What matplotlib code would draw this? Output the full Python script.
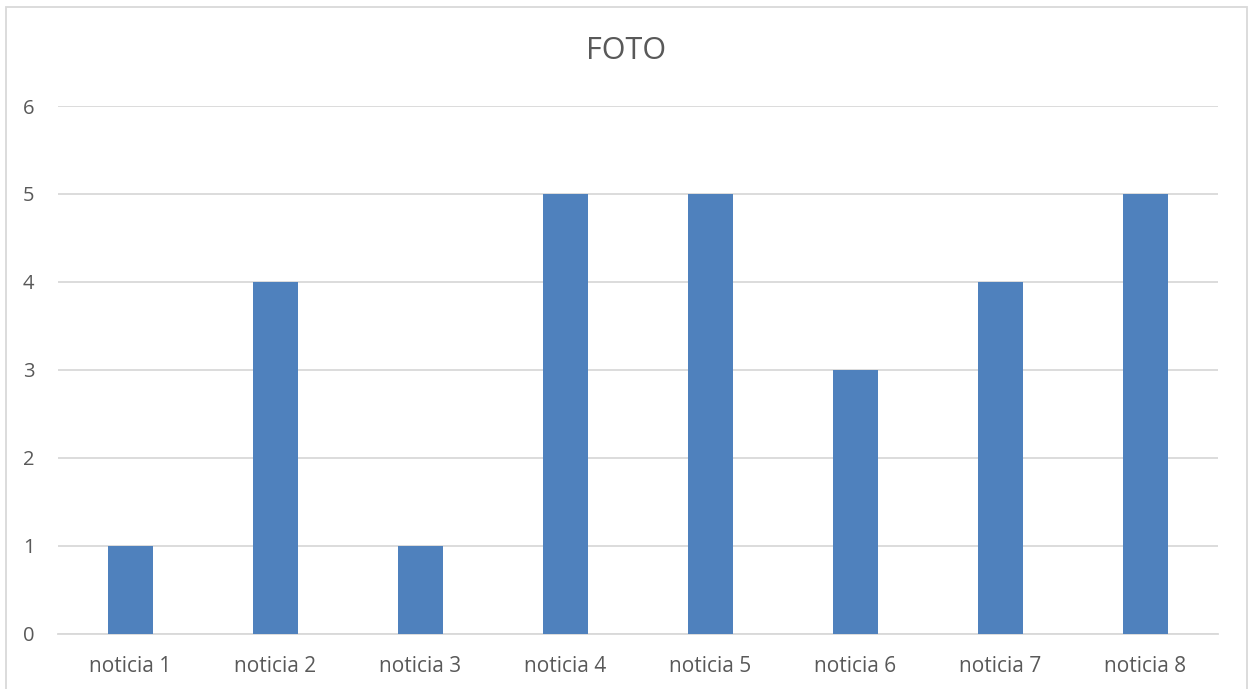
import matplotlib.pyplot as plt
from matplotlib.patches import Rectangle

# Data
categories = ["noticia 1", "noticia 2", "noticia 3", "noticia 4",
              "noticia 5", "noticia 6", "noticia 7", "noticia 8"]
values = [1, 4, 1, 5, 5, 3, 4, 5]

text_color = "#595959"
grid_color = "#D9D9D9"
bar_color = "#4F81BD"

plt.rcParams['font.family'] = ['Open Sans', 'DejaVu Sans']

fig = plt.figure(figsize=(12.54, 6.89), dpi=100)
ax = fig.add_axes([58 / 1254, 1 - 633.5 / 689, (1218 - 58) / 1254, (633.5 - 106) / 689])

x = range(len(categories))
ax.bar(x, values, width=0.317, color=bar_color, zorder=3)

ax.set_xlim(-0.5, len(categories) - 0.5)
ax.set_ylim(0, 6)
ax.set_yticks(range(0, 7))
ax.set_xticks(list(x))
ax.set_xticklabels(categories)

ax.grid(axis='y', color=grid_color, linewidth=1.3, zorder=0)
for s in ['top', 'right', 'left']:
    ax.spines[s].set_visible(False)
ax.spines['bottom'].set_color(grid_color)
ax.spines['bottom'].set_linewidth(1.3)

ax.tick_params(axis='y', length=0, pad=17, labelsize=14.5, labelcolor=text_color)
ax.tick_params(axis='x', length=0, pad=16, labelsize=15, labelcolor=text_color)

fig.text(0.499, 1 - 51 / 689, "FOTO", ha='center', va='center',
         fontsize=22, color=text_color)

# chart border
fig.patches.append(Rectangle((6 / 1254, -0.02), (1247 - 6) / 1254, 1.02 - 7 / 689,
                             transform=fig.transFigure, fill=False,
                             edgecolor=grid_color, linewidth=1.3))

fig.savefig("out.png", dpi=100)
